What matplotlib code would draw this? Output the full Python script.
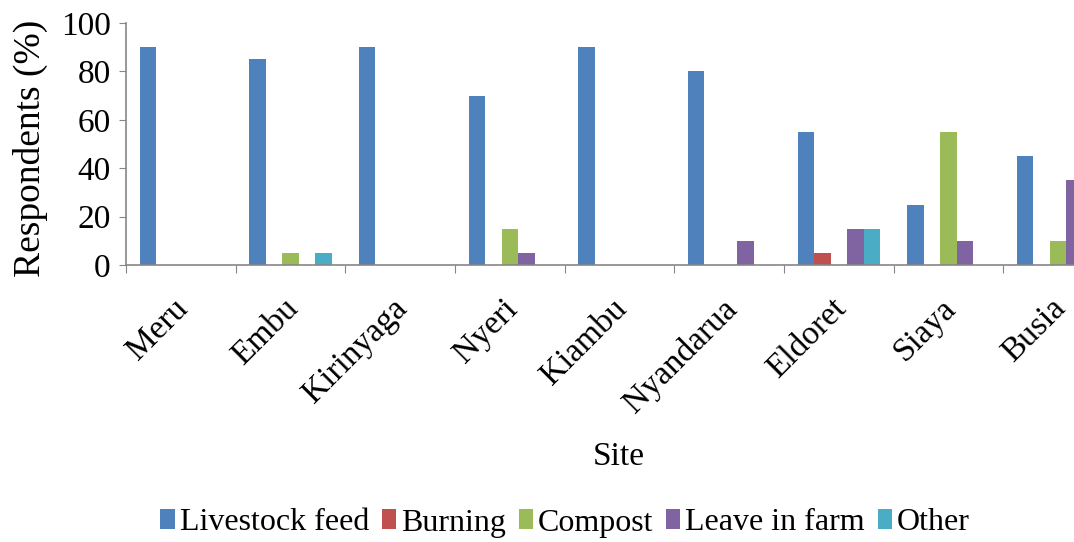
import matplotlib.pyplot as plt
import matplotlib.transforms as mtransforms
import numpy as np

# dati
sites = ['Meru', 'Embu', 'Kirinyaga', 'Nyeri', 'Kiambu', 'Nyandarua', 'Eldoret', 'Siaya', 'Busia']
livestock_feed = [90, 85, 90, 70, 90, 80, 55, 25, 45]
burning = [0, 0, 0, 0, 0, 0, 5, 0, 0]
compost = [0, 5, 0, 15, 0, 0, 0, 55, 10]
leave_in_farm = [0, 0, 0, 5, 0, 10, 15, 10, 35]
other = [0, 5, 0, 0, 0, 0, 15, 0, 0]

series = [
    ('Livestock feed', livestock_feed, '#4F81BD'),
    ('Burning', burning, '#C0504D'),
    ('Compost', compost, '#9BBB59'),
    ('Leave in farm', leave_in_farm, '#8064A2'),
    ('Other', other, '#4BACC6'),
]

plt.rcParams['font.family'] = ['Liberation Serif', 'DejaVu Serif']
grey = '#868686'

fig = plt.figure(figsize=(10.74, 5.42), dpi=100)
# l'asse esce a destra dalla figura, come nell'originale tagliato
ax = fig.add_axes([126 / 1074, 277 / 542, 987 / 1074, 242 / 542])

x = np.arange(len(sites)) + 0.5
w = 0.15
for k, (name, vals, col) in enumerate(series):
    ax.bar(x + (k - 2) * w, vals, width=w, color=col, label=name,
           edgecolor='none')

ax.set_xlim(0, len(sites))
ax.set_ylim(0, 100)
ax.set_yticks(range(0, 101, 20))
ax.set_xticks(range(len(sites) + 1))
ax.set_xticklabels([])
ax.set_xticks(x, minor=True)
ax.set_xticklabels(sites, minor=True, rotation=45, ha='right',
                   rotation_mode='anchor', fontsize=24)
ax.tick_params(axis='x', which='minor', length=0, pad=16)
ax.tick_params(axis='x', which='major', length=6, color=grey, direction='out')
ax.tick_params(axis='y', length=5, color=grey, direction='out', pad=6,
               labelsize=24)

# spostamento delle etichette: un po' a sinistra e in basso
shift = mtransforms.ScaledTranslation(-8 / 100, -6 / 100, fig.dpi_scale_trans)
for lab in ax.get_xticklabels(minor=True):
    lab.set_transform(lab.get_transform() + shift)

for s in ['top', 'right']:
    ax.spines[s].set_visible(False)
for s in ['left', 'bottom']:
    ax.spines[s].set_color(grey)
    ax.spines[s].set_linewidth(1.2)

fig.text(30 / 1074, 1 - 148 / 542, 'Respondents (%)', rotation=90,
         ha='center', va='center', fontsize=27)
fig.text(619 / 1074, 1 - 457 / 542, 'Site', ha='center', va='center',
         fontsize=24)

fig.legend(loc='center', bbox_to_anchor=(565 / 1074, 1 - 523 / 542), ncol=5,
           frameon=False, fontsize=23, handlelength=0.45, handleheight=0.6,
           handletextpad=0.15, columnspacing=0.4, borderaxespad=0)

plt.savefig('out.png', dpi=100)
